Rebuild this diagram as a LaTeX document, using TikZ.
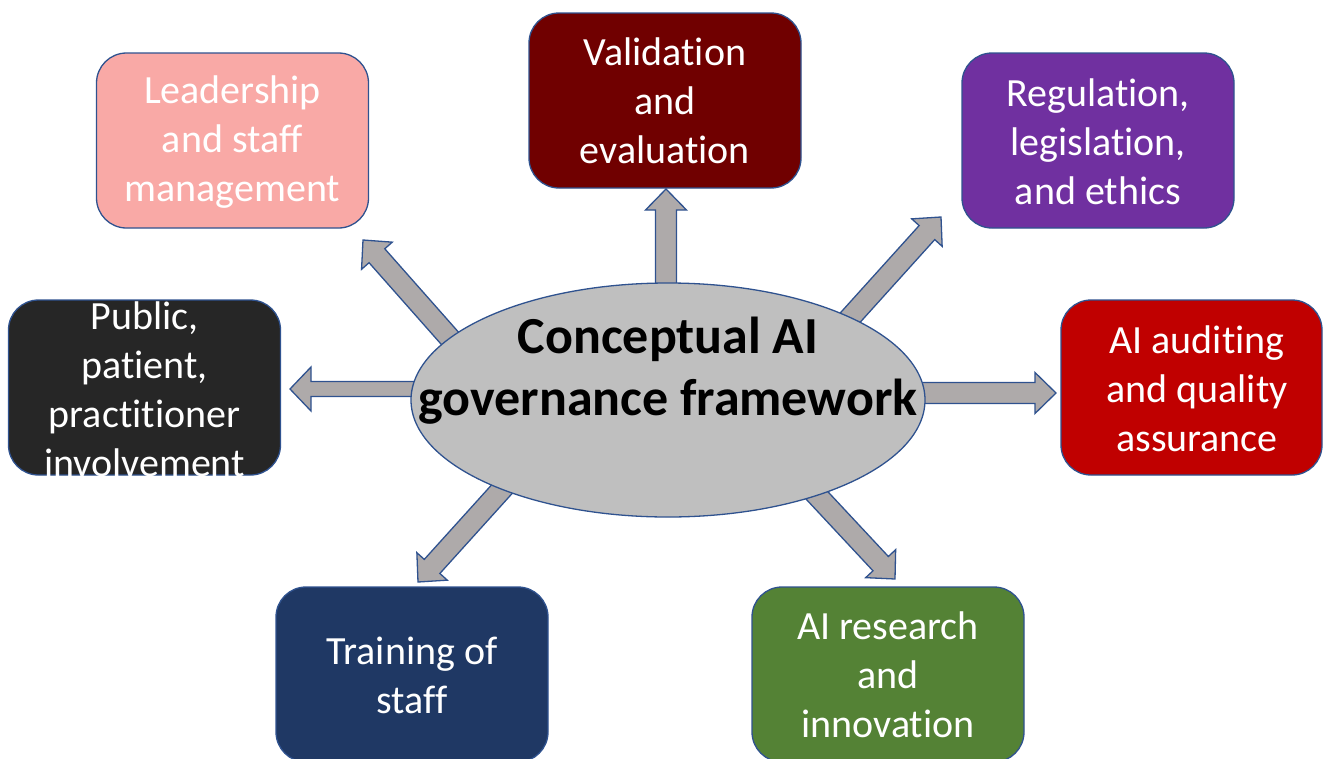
\documentclass[tikz,border=0pt]{standalone}
\usepackage{fontspec}
\setmainfont[Ligatures=NoCommon]{Carlito}
\usetikzlibrary{calc,shapes.geometric}

\definecolor{edgeblue}{HTML}{2F528F}
\definecolor{arrowgray}{HTML}{AEAAAA}
\definecolor{hubgray}{HTML}{BFBFBF}
\definecolor{pinkfill}{HTML}{F9A9A6}
\definecolor{maroonfill}{HTML}{700000}
\definecolor{purplefill}{HTML}{7030A0}
\definecolor{darkfill}{HTML}{262626}
\definecolor{redfill}{HTML}{C00000}
\definecolor{navyfill}{HTML}{1F3864}
\definecolor{greenfill}{HTML}{548235}

\tikzset{
  panel/.style={draw=edgeblue, line width=1.3pt, rounded corners=30pt,
    minimum width=272pt, minimum height=175pt, inner sep=0pt, fill=#1},
  paneltext/.style={text=white, align=center, inner sep=0pt,
    font=\fontsize{40}{49}\selectfont},
  spoke/.style={draw=edgeblue, line width=1.3pt, fill=arrowgray, line join=miter},
  hub/.style={ellipse, draw=edgeblue, line width=1.3pt, fill=hubgray,
    minimum width=514pt, minimum height=234pt, inner sep=0pt},
  hubtext/.style={align=center, inner sep=0pt,
    font=\fontsize{52}{62}\selectfont\bfseries},
}

% block arrow: #1 tail, #2 tip, #3 half shaft width, #4 half head width
\newcommand\spokearrow[4]{%
  \coordinate (sp-h) at ($(#2)!21pt!(#1)$);
  \draw[spoke] ($(#1)!#3!90:(#2)$) -- ($(sp-h)!#3!-90:(#1)$)
    -- ($(sp-h)!#4!-90:(#1)$) -- (#2) -- ($(sp-h)!#4!90:(#1)$)
    -- ($(sp-h)!#3!90:(#1)$) -- ($(#1)!#3!-90:(#2)$) -- cycle;}

\begin{document}
\begin{tikzpicture}[x=1pt, y=-1pt]
  \useasboundingbox (0,0) rectangle (1323,758);
  \clip (0,0) rectangle (1323,758);

  % arrow tails (hidden under the hub) and tips
  \coordinate (tN)  at (666,320);  \coordinate (pN)  at (666,189);
  \coordinate (tNE) at (830,340);  \coordinate (pNE) at (941,217);
  \coordinate (tE)  at (890,393);  \coordinate (pE)  at (1056,393);
  \coordinate (tSE) at (797,474);  \coordinate (pSE) at (895,579);
  \coordinate (tSW) at (521,468);  \coordinate (pSW) at (418,582);
  \coordinate (tW)  at (450,389);  \coordinate (pW)  at (290,389);
  \coordinate (tNW) at (470,361);  \coordinate (pNW) at (363,240);

  \spokearrow{tN}{pN}{10.5pt}{20.5pt}
  \spokearrow{tNE}{pNE}{10.5pt}{20.5pt}
  \spokearrow{tE}{pE}{10.5pt}{20.5pt}
  \spokearrow{tSE}{pSE}{10.5pt}{20.5pt}
  \spokearrow{tSW}{pSW}{10.5pt}{20.5pt}
  \spokearrow{tW}{pW}{7.5pt}{22pt}
  \spokearrow{tNW}{pNW}{10.5pt}{20.5pt}

  % central hub
  \node[hub] (hub) at (668,400) {};
  \node[hubtext] (hubt) at (668,371) {Conceptual AI\\governance framework};

  % surrounding panels
  \node[panel=pinkfill]   (lead)  at (232.5,140.5) {};
  \node[paneltext] (leadt) at (232.5,142) {Leadership\\and staff\\management};

  \node[panel=maroonfill] (valid) at (665,100.5) {};
  \node[paneltext] (validt) at (665,101) {Validation\\and\\evaluation};

  \node[panel=purplefill] (regul) at (1098,140.5) {};
  \node[paneltext] (regult) at (1098,142) {Regulation,\\legislation,\\and ethics};

  \node[panel=darkfill]   (publ)  at (144.5,387.5) {};
  \node[paneltext] (publt) at (144.5,389) {Public,\\patient,\\practitioner\\involvement};

  \node[panel=redfill, minimum width=261pt] (audit) at (1191.5,387.5) {};
  \node[paneltext] (auditt) at (1197,389) {AI auditing\\and quality\\assurance};

  \node[panel=navyfill]   (train) at (412,674.5) {};
  \node[paneltext] (traint) at (412,675) {Training of\\staff};

  \node[panel=greenfill]  (resea) at (888,674.5) {};
  \node[paneltext] (reseat) at (888,675) {AI research\\and\\innovation};
\end{tikzpicture}
\end{document}
